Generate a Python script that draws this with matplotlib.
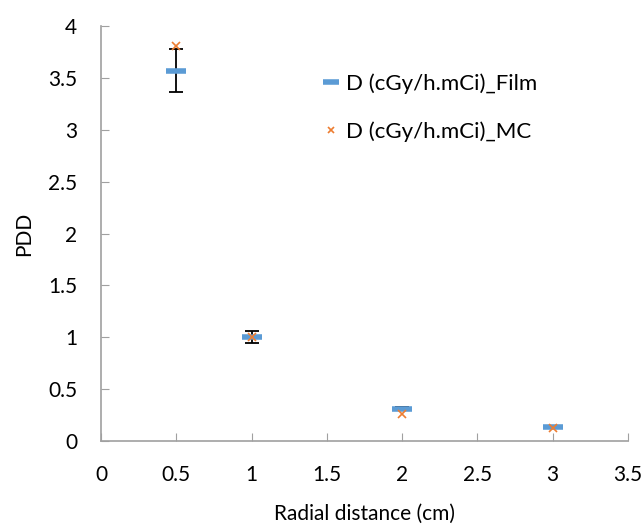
import matplotlib
matplotlib.use("Agg")
import matplotlib.pyplot as plt

plt.rcParams['font.family'] = ['Lato', 'DejaVu Sans']

# data
distance = [0.5, 1, 2, 3]
film = [3.57, 1.0, 0.31, 0.135]
film_err = [0.21, 0.06, 0.015, 0.01]
mc = [3.81, 1.0, 0.26, 0.125]

x_ticks = [0, 0.5, 1, 1.5, 2, 2.5, 3, 3.5]
y_ticks = [0, 0.5, 1, 1.5, 2, 2.5, 3, 3.5, 4]

fig = plt.figure(figsize=(6.44, 5.25), dpi=100)
ax = fig.add_axes([101 / 644, 1 - 441 / 525, (628 - 101) / 644, (441 - 26) / 525])

ax.errorbar(distance, film, yerr=film_err, fmt='none', ecolor='black',
            elinewidth=1.3, capsize=5, capthick=1.3, zorder=2)
ax.plot(distance, film, linestyle='none', marker='_', markersize=14,
        markeredgewidth=4, color='#5B9BD5', label='D (cGy/h.mCi)_Film', zorder=3)
ax.plot(distance, mc, linestyle='none', marker='x', markersize=6,
        markeredgewidth=1.2, color='#ED7D31', label='D (cGy/h.mCi)_MC', zorder=4)

ax.set_xlim(0, 3.5)
ax.set_ylim(0, 4)
ax.set_xticks(x_ticks)
ax.set_xticklabels([f'{v:g}' for v in x_ticks])
ax.set_yticks(y_ticks)
ax.set_yticklabels([f'{v:g}' for v in y_ticks])

for s in ['top', 'right']:
    ax.spines[s].set_visible(False)
for s in ['left', 'bottom']:
    ax.spines[s].set_color('#a0a0a0')
    ax.spines[s].set_linewidth(1.2)
ax.tick_params(direction='in', length=6, color='#a0a0a0', labelsize=15)
ax.tick_params(axis='y', pad=17)
ax.tick_params(axis='x', pad=17)

ax.set_xlabel('Radial distance (cm)', fontsize=15, labelpad=14)
ax.set_ylabel('PDD', fontsize=15, labelpad=10)

ax.legend(loc='upper left', bbox_to_anchor=(0.385, 0.935), frameon=False,
          fontsize=16, handlelength=0.6, handletextpad=0.4, labelspacing=1.25,
          markerscale=0.8)

fig.savefig('out.png', dpi=100)
